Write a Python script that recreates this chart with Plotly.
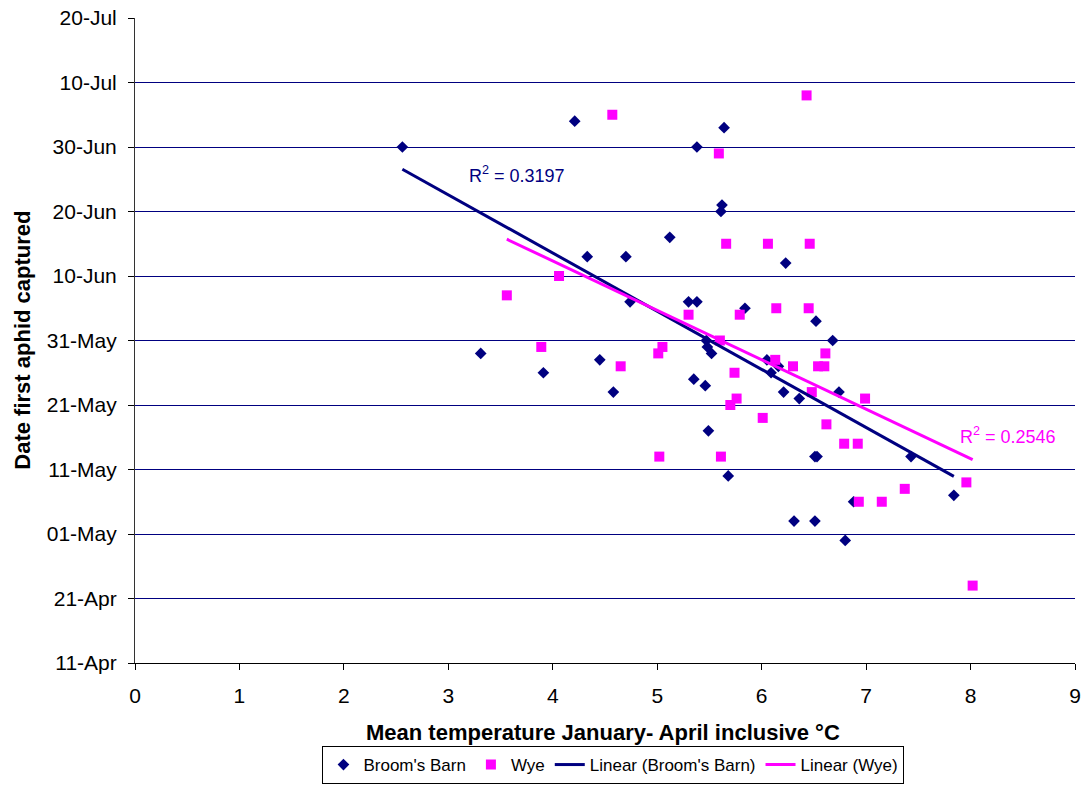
import numpy as np
import pandas as pd
import plotly.graph_objects as go

# Broom's Barn: mean Jan-Apr temperature (°C) and date of first aphid capture
bb_temp = [2.56, 3.31, 3.91, 4.21, 4.33, 4.45, 4.58, 4.70, 4.74, 5.12,
           5.30, 5.35, 5.38, 5.38, 5.46, 5.47, 5.48, 5.52, 5.49, 5.61,
           5.62, 5.64, 5.68, 5.84, 6.05, 6.09, 6.16, 6.21, 6.23, 6.31,
           6.36, 6.51, 6.53, 6.51, 6.52, 6.68, 6.74, 6.80, 6.88, 7.43, 7.84]
bb_date = ["06-30", "05-29", "05-26", "07-04", "06-13", "05-28", "05-23", "06-13", "06-06", "06-16",
           "06-06", "05-25", "06-30", "06-06", "05-24", "05-31", "05-30", "05-29", "05-17", "06-20",
           "06-21", "07-03", "05-10", "06-05", "05-28", "05-26", "05-27", "05-23", "06-12", "05-03",
           "05-22", "05-13", "05-13", "05-03", "06-03", "05-31", "05-23", "04-30", "05-06", "05-13", "05-07"]

# Wye
wye_temp = [3.56, 3.89, 4.06, 4.57, 4.65, 5.01, 5.02, 5.05, 5.30, 5.59,
            5.60, 5.61, 5.66, 5.70, 5.74, 5.76, 5.79, 6.01, 6.06, 6.13,
            6.14, 6.30, 6.43, 6.45, 6.46, 6.48, 6.54, 6.60, 6.61, 6.62,
            6.79, 6.92, 6.93, 6.99, 7.15, 7.37, 7.96, 8.02]
wye_date = ["06-07", "05-30", "06-10", "07-05", "05-27", "05-29", "05-13", "05-30", "06-04", "06-29",
            "05-31", "05-13", "06-15", "05-21", "05-26", "05-22", "06-04", "05-19", "06-15", "05-28",
            "06-05", "05-27", "07-08", "06-05", "06-15", "05-23", "05-27", "05-27", "05-29", "05-18",
            "05-15", "05-15", "05-06", "05-22", "05-06", "05-08", "05-09", "04-23"]

r2_bb_label = "R<sup>2</sup> = 0.3197"
r2_wye_label = "R<sup>2</sup> = 0.2546"
x_title = "<b>Mean temperature January- April inclusive °C</b>"
y_title = "<b>Date first aphid captured</b>"

YEAR = "2001"
y_start, y_end = "2001-04-11", "2001-07-20"
x_ticks = list(range(0, 10))

NAVY = "#000080"
MAGENTA = "#FF00FF"
FONT = "Liberation Sans, Arial, sans-serif"


def to_dt(md):
    return pd.to_datetime([f"{YEAR}-{d}" for d in md])


base = pd.Timestamp(y_start)
day = pd.Timedelta(days=1)


def trend(xs, dates):
    xs = np.asarray(xs, float)
    ys = np.asarray((dates - base) / day, float)
    m, c = np.polyfit(xs, ys, 1)
    xe = np.array([xs.min(), xs.max()])
    ye = [base + pd.Timedelta(days=float(v)) for v in m * xe + c]
    return xe, ye


bb_dt = to_dt(bb_date)
wye_dt = to_dt(wye_date)
bb_lx, bb_ly = trend(bb_temp, bb_dt)
wye_lx, wye_ly = trend(wye_temp, wye_dt)

fig = go.Figure()
fig.add_trace(go.Scatter(x=bb_temp, y=bb_dt, mode="markers", name="Broom's Barn",
                         marker=dict(symbol="diamond", size=9, color=NAVY)))
fig.add_trace(go.Scatter(x=wye_temp, y=wye_dt, mode="markers", name="Wye",
                         marker=dict(symbol="square", size=10, color=MAGENTA)))
fig.add_trace(go.Scatter(x=bb_lx, y=bb_ly, mode="lines", name="Linear (Broom's Barn)",
                         line=dict(color=NAVY, width=3)))
fig.add_trace(go.Scatter(x=wye_lx, y=wye_ly, mode="lines", name="Linear (Wye)",
                         line=dict(color=MAGENTA, width=3)))

fig.add_annotation(x=3.18, y="2001-06-25 16:00", xref="x", yref="y", text=r2_bb_label,
                   showarrow=False, xanchor="left", yanchor="middle",
                   font=dict(size=18, color=NAVY, family=FONT))
fig.add_annotation(x=7.88, y="2001-05-16 08:00", xref="x", yref="y", text=r2_wye_label,
                   showarrow=False, xanchor="left", yanchor="middle",
                   font=dict(size=18, color=MAGENTA, family=FONT))

# axis titles
fig.add_annotation(x=0.498, y=-0.1085, xref="paper", yref="paper", text=x_title,
                   showarrow=False, xanchor="center", yanchor="middle",
                   font=dict(size=22, color="black", family=FONT))
fig.add_annotation(x=-0.120, y=0.5, xref="paper", yref="paper", text=y_title,
                   showarrow=False, xanchor="center", yanchor="middle", textangle=-90,
                   font=dict(size=22, color="black", family=FONT))

fig.update_layout(
    width=1083, height=785,
    margin=dict(l=135, r=8, t=18, b=122, autoexpand=False),
    paper_bgcolor="white", plot_bgcolor="white",
    font=dict(family=FONT, size=21, color="black"),
    showlegend=True,
    legend=dict(orientation="h", x=0.509, xanchor="center", y=-0.1876, yanchor="bottom",
                bordercolor="black", borderwidth=1, font=dict(size=17),
                itemwidth=30, tracegroupgap=0),
    xaxis=dict(range=[0, 9], tickvals=x_ticks, showgrid=False, zeroline=False,
               showline=True, linecolor="black", linewidth=1, automargin=False,
               ticks="outside", ticklen=6, tickcolor="black", ticklabelstandoff=8),
    yaxis=dict(type="date", range=[y_start, y_end], tick0=y_start, dtick=864000000,
               tickformat="%d-%b", showgrid=True, gridcolor=NAVY, gridwidth=1,
               zeroline=False, showline=True, linecolor="#333333", linewidth=1,
               automargin=False,
               ticks="outside", ticklen=6, tickcolor="black", ticklabelstandoff=7),
)

fig.write_html("out.html")
